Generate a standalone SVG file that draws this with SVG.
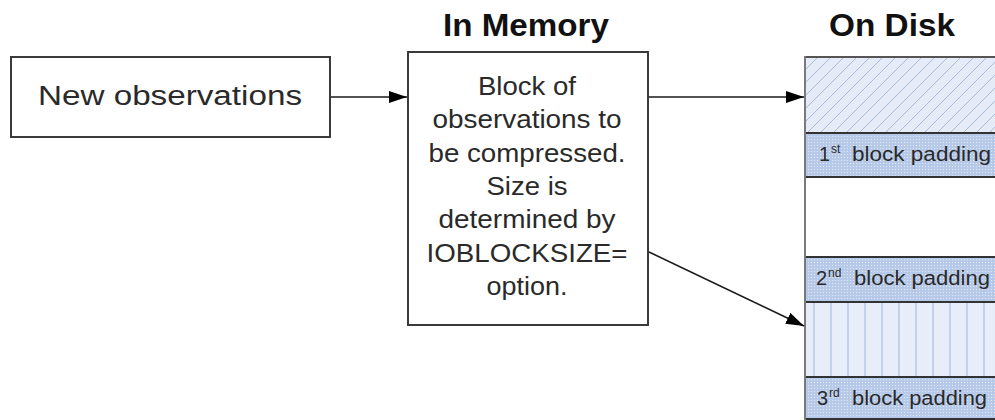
<svg xmlns="http://www.w3.org/2000/svg" width="995" height="420" viewBox="0 0 995 420">
<defs>
<style>
.box{fill:#fff;stroke:#3a3a3a;stroke-width:2}
.t{font-family:"Liberation Sans",Arial,sans-serif;fill:#2a2a2a}
.body{font-size:26px;text-anchor:middle}
.title{font-size:31px;font-weight:bold;text-anchor:middle;fill:#111}
.pad{font-size:20px;fill:#2a2a2a}
.sup{font-size:12px}
.conn{stroke:#1a1a1a;stroke-width:1.6;fill:none;marker-end:url(#ah)}
.sep{stroke:#333;stroke-width:2}
</style>
<marker id="ah" viewBox="0 0 18 12" refX="18" refY="6" markerWidth="18" markerHeight="12" markerUnits="userSpaceOnUse" orient="auto">
<path d="M0,0 L18,6 L0,12 Z" fill="#000"/>
</marker>
<pattern id="diag" patternUnits="userSpaceOnUse" width="13" height="13" x="805" y="57">
<rect width="13" height="13" fill="#e5ecf8"/>
<path d="M-1,14 L14,-1 M-1,1 L1,-1 M12,14 L14,12" stroke="#a9bad9" stroke-width="1"/>
</pattern>
<pattern id="vert" patternUnits="userSpaceOnUse" width="17" height="10" x="805" y="0">
<rect width="17" height="10" fill="#e7eef9"/>
<line x1="9" y1="0" x2="9" y2="10" stroke="#aac0e2" stroke-width="1.2"/>
</pattern>
<pattern id="dots" patternUnits="userSpaceOnUse" width="3" height="3">
<rect width="3" height="3" fill="#b6c9e8"/>
<rect x="1" y="1" width="1" height="1" fill="#e3eaf6"/>
</pattern>
</defs>

<g id="titles">
<text class="t title" x="526" y="36" textLength="166" lengthAdjust="spacingAndGlyphs">In Memory</text>
<text class="t title" x="892" y="36" textLength="126" lengthAdjust="spacingAndGlyphs">On Disk</text>
</g>

<g id="new-observations">
<rect class="box" x="11" y="57" width="319" height="80"/>
<text class="t" x="38" y="105" font-size="27" textLength="264" lengthAdjust="spacingAndGlyphs">New observations</text>
</g>

<g id="in-memory-block">
<rect class="box" x="408" y="52" width="240" height="273"/>
<text class="t body" x="527" y="95" textLength="98" lengthAdjust="spacingAndGlyphs">Block of</text>
<text class="t body" x="527" y="128" textLength="189" lengthAdjust="spacingAndGlyphs">observations to</text>
<text class="t body" x="527" y="162" textLength="197" lengthAdjust="spacingAndGlyphs">be compressed.</text>
<text class="t body" x="527" y="195" textLength="81" lengthAdjust="spacingAndGlyphs">Size is</text>
<text class="t body" x="527" y="228" textLength="177" lengthAdjust="spacingAndGlyphs">determined by</text>
<text class="t body" x="527" y="262" textLength="201" lengthAdjust="spacingAndGlyphs">IOBLOCKSIZE=</text>
<text class="t body" x="527" y="295" textLength="81" lengthAdjust="spacingAndGlyphs">option.</text>
</g>

<g id="on-disk">
<rect x="805" y="57" width="195" height="76" fill="url(#diag)"/>
<rect x="805" y="133" width="195" height="44" fill="url(#dots)"/>
<rect x="805" y="177" width="195" height="80" fill="#fff"/>
<rect x="805" y="257" width="195" height="45" fill="url(#dots)"/>
<rect x="805" y="302" width="195" height="75" fill="url(#vert)"/>
<rect x="805" y="377" width="195" height="43" fill="url(#dots)"/>
<line x1="805" y1="57" x2="995" y2="57" stroke="#555" stroke-width="2"/>
<line class="sep" x1="805" y1="133" x2="995" y2="133"/>
<line class="sep" x1="805" y1="177" x2="995" y2="177"/>
<line class="sep" x1="805" y1="257" x2="995" y2="257"/>
<line class="sep" x1="805" y1="302" x2="995" y2="302"/>
<line class="sep" x1="805" y1="377" x2="995" y2="377"/>
<line class="sep" x1="805" y1="419" x2="995" y2="419"/>
<line x1="805" y1="56" x2="805" y2="420" stroke="#7a7a7a" stroke-width="2"/>
</g>

<g id="pad1">
<text class="t pad" y="161"><tspan x="819">1</tspan><tspan class="sup" x="831" dy="-8">st</tspan><tspan x="852" dy="8" textLength="139" lengthAdjust="spacingAndGlyphs">block padding</tspan></text>
</g>
<g id="pad2">
<text class="t pad" y="285"><tspan x="816">2</tspan><tspan class="sup" x="828" dy="-8">nd</tspan><tspan x="854" dy="8" textLength="136" lengthAdjust="spacingAndGlyphs">block padding</tspan></text>
</g>
<g id="pad3">
<text class="t pad" y="405"><tspan x="817">3</tspan><tspan class="sup" x="829" dy="-8">rd</tspan><tspan x="852" dy="8" textLength="135" lengthAdjust="spacingAndGlyphs">block padding</tspan></text>
</g>

<g id="connectors">
<line class="conn" x1="331" y1="97" x2="407" y2="97"/>
<line class="conn" x1="649" y1="97" x2="804" y2="97"/>
<line class="conn" x1="649" y1="252" x2="804" y2="326"/>
</g>
</svg>
